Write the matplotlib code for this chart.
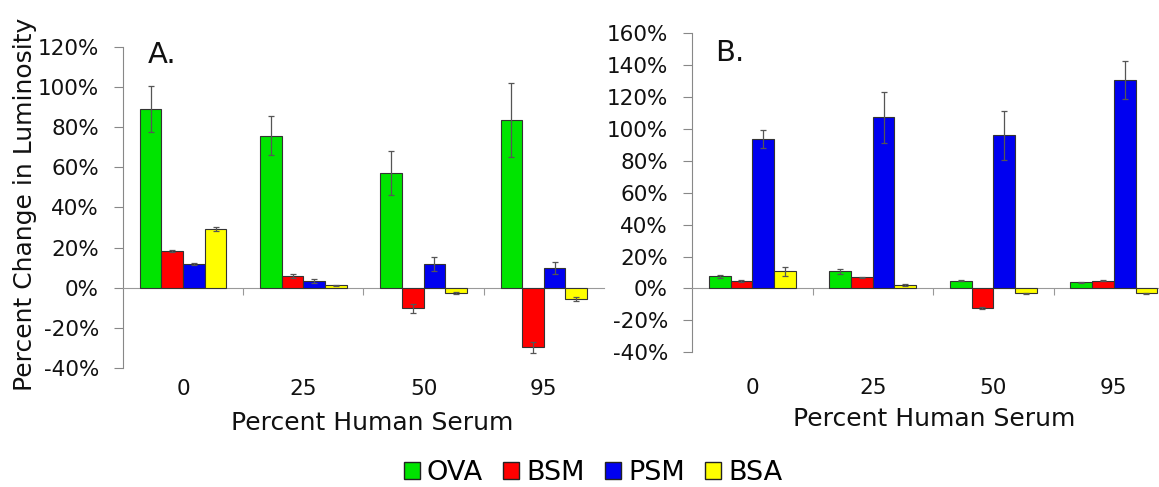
import matplotlib
matplotlib.use('Agg')
import matplotlib.pyplot as plt
from matplotlib.patches import Patch
from matplotlib.ticker import FuncFormatter
import numpy as np

categories = ['0', '25', '50', '95']
series = ['OVA', 'BSM', 'PSM', 'BSA']
colors = ['#00e400', '#ff0000', '#0000f0', '#ffff00']

# Panel A values (percent change) and error bars
a_ova = [89.2, 75.8, 57.2, 83.8]
a_bsm = [18.5, 5.8, -10.3, -29.8]
a_psm = [11.7, 3.5, 11.7, 9.7]
a_bsa = [29.2, 1.2, -2.8, -5.8]
a_ova_err = [11.5, 9.7, 10.8, 18.4]
a_bsm_err = [0.5, 1.0, 2.2, 2.7]
a_psm_err = [0.5, 1.0, 3.5, 3.0]
a_bsa_err = [1.0, 0.3, 0.5, 1.0]

# Panel B values (percent change) and error bars
b_ova = [7.7, 10.8, 5.0, 3.8]
b_bsm = [4.6, 6.9, -12.1, 5.0]
b_psm = [93.9, 107.3, 96.0, 130.7]
b_bsa = [10.8, 2.3, -3.1, -3.1]
b_ova_err = [1.0, 1.5, 0.6, 0.5]
b_bsm_err = [0.5, 0.6, 0.8, 0.5]
b_psm_err = [5.7, 16.2, 15.5, 11.9]
b_bsa_err = [2.8, 0.5, 0.5, 0.5]

a_ticks = [-40, -20, 0, 20, 40, 60, 80, 100, 120]
b_ticks = [-40, -20, 0, 20, 40, 60, 80, 100, 120, 140, 160]

fig = plt.figure(figsize=(11.59, 4.87), dpi=100)
axA = fig.add_axes([0.1061, 0.2450, 0.4150, 0.6579])
axB = fig.add_axes([0.5971, 0.2766, 0.4159, 0.6550])

TXT = '#111111'


def draw(ax, vals, errs, ticks, pad):
    x = np.arange(len(categories))
    w = 0.18
    for i, (v, e, c) in enumerate(zip(vals, errs, colors)):
        xs = x + (i - 1.5) * w
        ax.bar(xs, v, w, color=c, edgecolor='#333333', linewidth=0.8, zorder=3)
        ax.errorbar(xs, v, yerr=e, fmt='none', ecolor='#555555', elinewidth=0.9,
                    capsize=2.5, capthick=0.9, zorder=4)
    ax.set_xlim(-0.5, len(categories) - 0.5)
    ax.set_ylim(ticks[0], ticks[-1])
    ax.set_yticks(ticks)
    ax.yaxis.set_major_formatter(FuncFormatter(lambda v, _: f"{v:.0f}%"))
    for s in ['top', 'right']:
        ax.spines[s].set_visible(False)
    ax.spines['left'].set_color('#888888')
    ax.spines['bottom'].set_position(('data', 0))
    ax.spines['bottom'].set_color('#999999')
    bounds = x[:-1] + 0.5
    ax.set_xticks(bounds, [''] * len(bounds))
    ax.set_xticks(x, categories, minor=True)
    ax.tick_params(axis='x', which='major', length=5, color='#999999', direction='out')
    ax.tick_params(axis='x', which='minor', length=0, pad=pad, labelsize=15.5,
                   labelcolor=TXT)
    ax.tick_params(axis='y', length=6.5, color='#888888', pad=10.8, labelsize=15.5,
                   labelcolor=TXT)
    ax.set_xlabel('Percent Human Serum', fontsize=18, color=TXT)


draw(axA, [a_ova, a_bsm, a_psm, a_bsa], [a_ova_err, a_bsm_err, a_psm_err, a_bsa_err],
     a_ticks, 65.5)
draw(axB, [b_ova, b_bsm, b_psm, b_bsa], [b_ova_err, b_bsm_err, b_psm_err, b_bsa_err],
     b_ticks, 64.5)

axA.xaxis.set_label_coords(0.519, -0.135)
axB.xaxis.set_label_coords(0.502, -0.172)

axA.set_ylabel('Percent Change in Luminosity', fontsize=18, color=TXT)
axA.yaxis.set_label_coords(-0.179, 0.511)

axA.text(0.052, 0.951, 'A.', transform=axA.transAxes, fontsize=21, color=TXT,
         va='baseline', ha='left')
axB.text(0.048, 0.914, 'B.', transform=axB.transAxes, fontsize=21, color=TXT,
         va='baseline', ha='left')

handles = [Patch(facecolor=c, edgecolor='#222222', linewidth=1) for c in colors]
fig.legend(handles, series, loc='center', bbox_to_anchor=(0.5117, 0.0287), ncol=4,
           frameon=False, fontsize=19.5, handlelength=0.6, handleheight=0.6,
           handletextpad=0.26, columnspacing=0.74, borderpad=0, borderaxespad=0)

fig.savefig('out.png', dpi=100)
